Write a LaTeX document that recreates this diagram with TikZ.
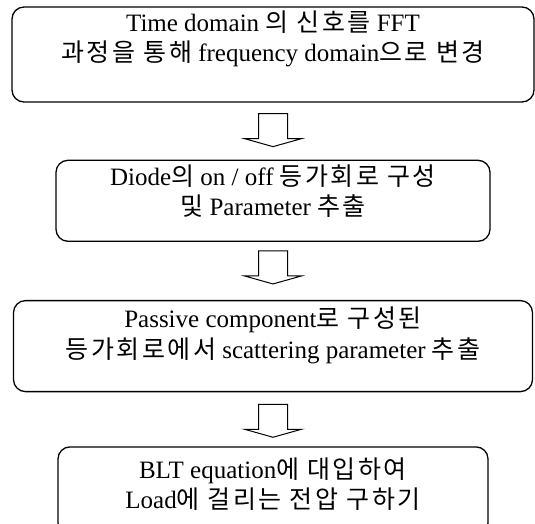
\documentclass[tikz,border=0pt]{standalone}
\usepackage{fontspec}
\setmainfont{Liberation Serif}
\newfontfamily\krfont[LetterSpace=10]{Noto Sans CJK KR}
\newcommand{\krtext}[1]{{\krfont #1}}
\usetikzlibrary{positioning}

\tikzset{
  hollowarrow/.pic={
    \draw[line width=1pt] (-14.5,0) -- (-14.5,-25) -- (-28.5,-25) -- (0,-33)
      -- (28.5,-25) -- (14.5,-25) -- (14.5,0) -- cycle;
  }
}

\begin{document}
\begin{tikzpicture}[x=1pt, y=1pt,
  stepbox/.style={draw, line width=1.3pt, rounded corners=12pt, inner sep=0pt},
  steptext/.style={align=center, inner sep=0pt, font=\fontsize{25}{30.5}\selectfont}]
  \useasboundingbox (0,0) rectangle (535,-524);

  \node[stepbox, minimum width=522pt, minimum height=95pt] (fft) at (273,-54.5) {};
  \node[stepbox, minimum width=434pt, minimum height=81pt, below=57pt of fft] (diode) {};
  \node[stepbox, minimum width=519pt, minimum height=91pt, below=58pt of diode] (passive) {};
  \node[stepbox, minimum width=430pt, minimum height=88pt, below=54pt of passive] (blt) {};

  \node[steptext] (fft text) at ([yshift=15.5pt]fft.center)
    {Time domain \krtext{의 신호를} FFT\\ \krtext{과정을 통해} frequency domain\krtext{으로 변경}};
  \node[steptext] (diode text) at ([yshift=9.5pt]diode.center)
    {Diode\krtext{의} on / off \krtext{등가회로 구성}\\ \krtext{및} Parameter \krtext{추출}};
  \node[steptext] (passive text) at ([yshift=10.5pt]passive.center)
    {Passive component\krtext{로 구성된}\\ \krtext{등가회로에서} scattering parameter \krtext{추출}};
  \node[steptext] (blt text) at ([yshift=7pt]blt.center)
    {BLT equation\krtext{에 대입하여}\\ Load\krtext{에 걸리는 전압 구하기}};

  % hollow arrows between the steps
  \pic at ([yshift=-11pt]fft.south) {hollowarrow};
  \pic at ([yshift=-9pt]diode.south) {hollowarrow};
  \pic at ([yshift=-12pt]passive.south) {hollowarrow};
\end{tikzpicture}
\end{document}
